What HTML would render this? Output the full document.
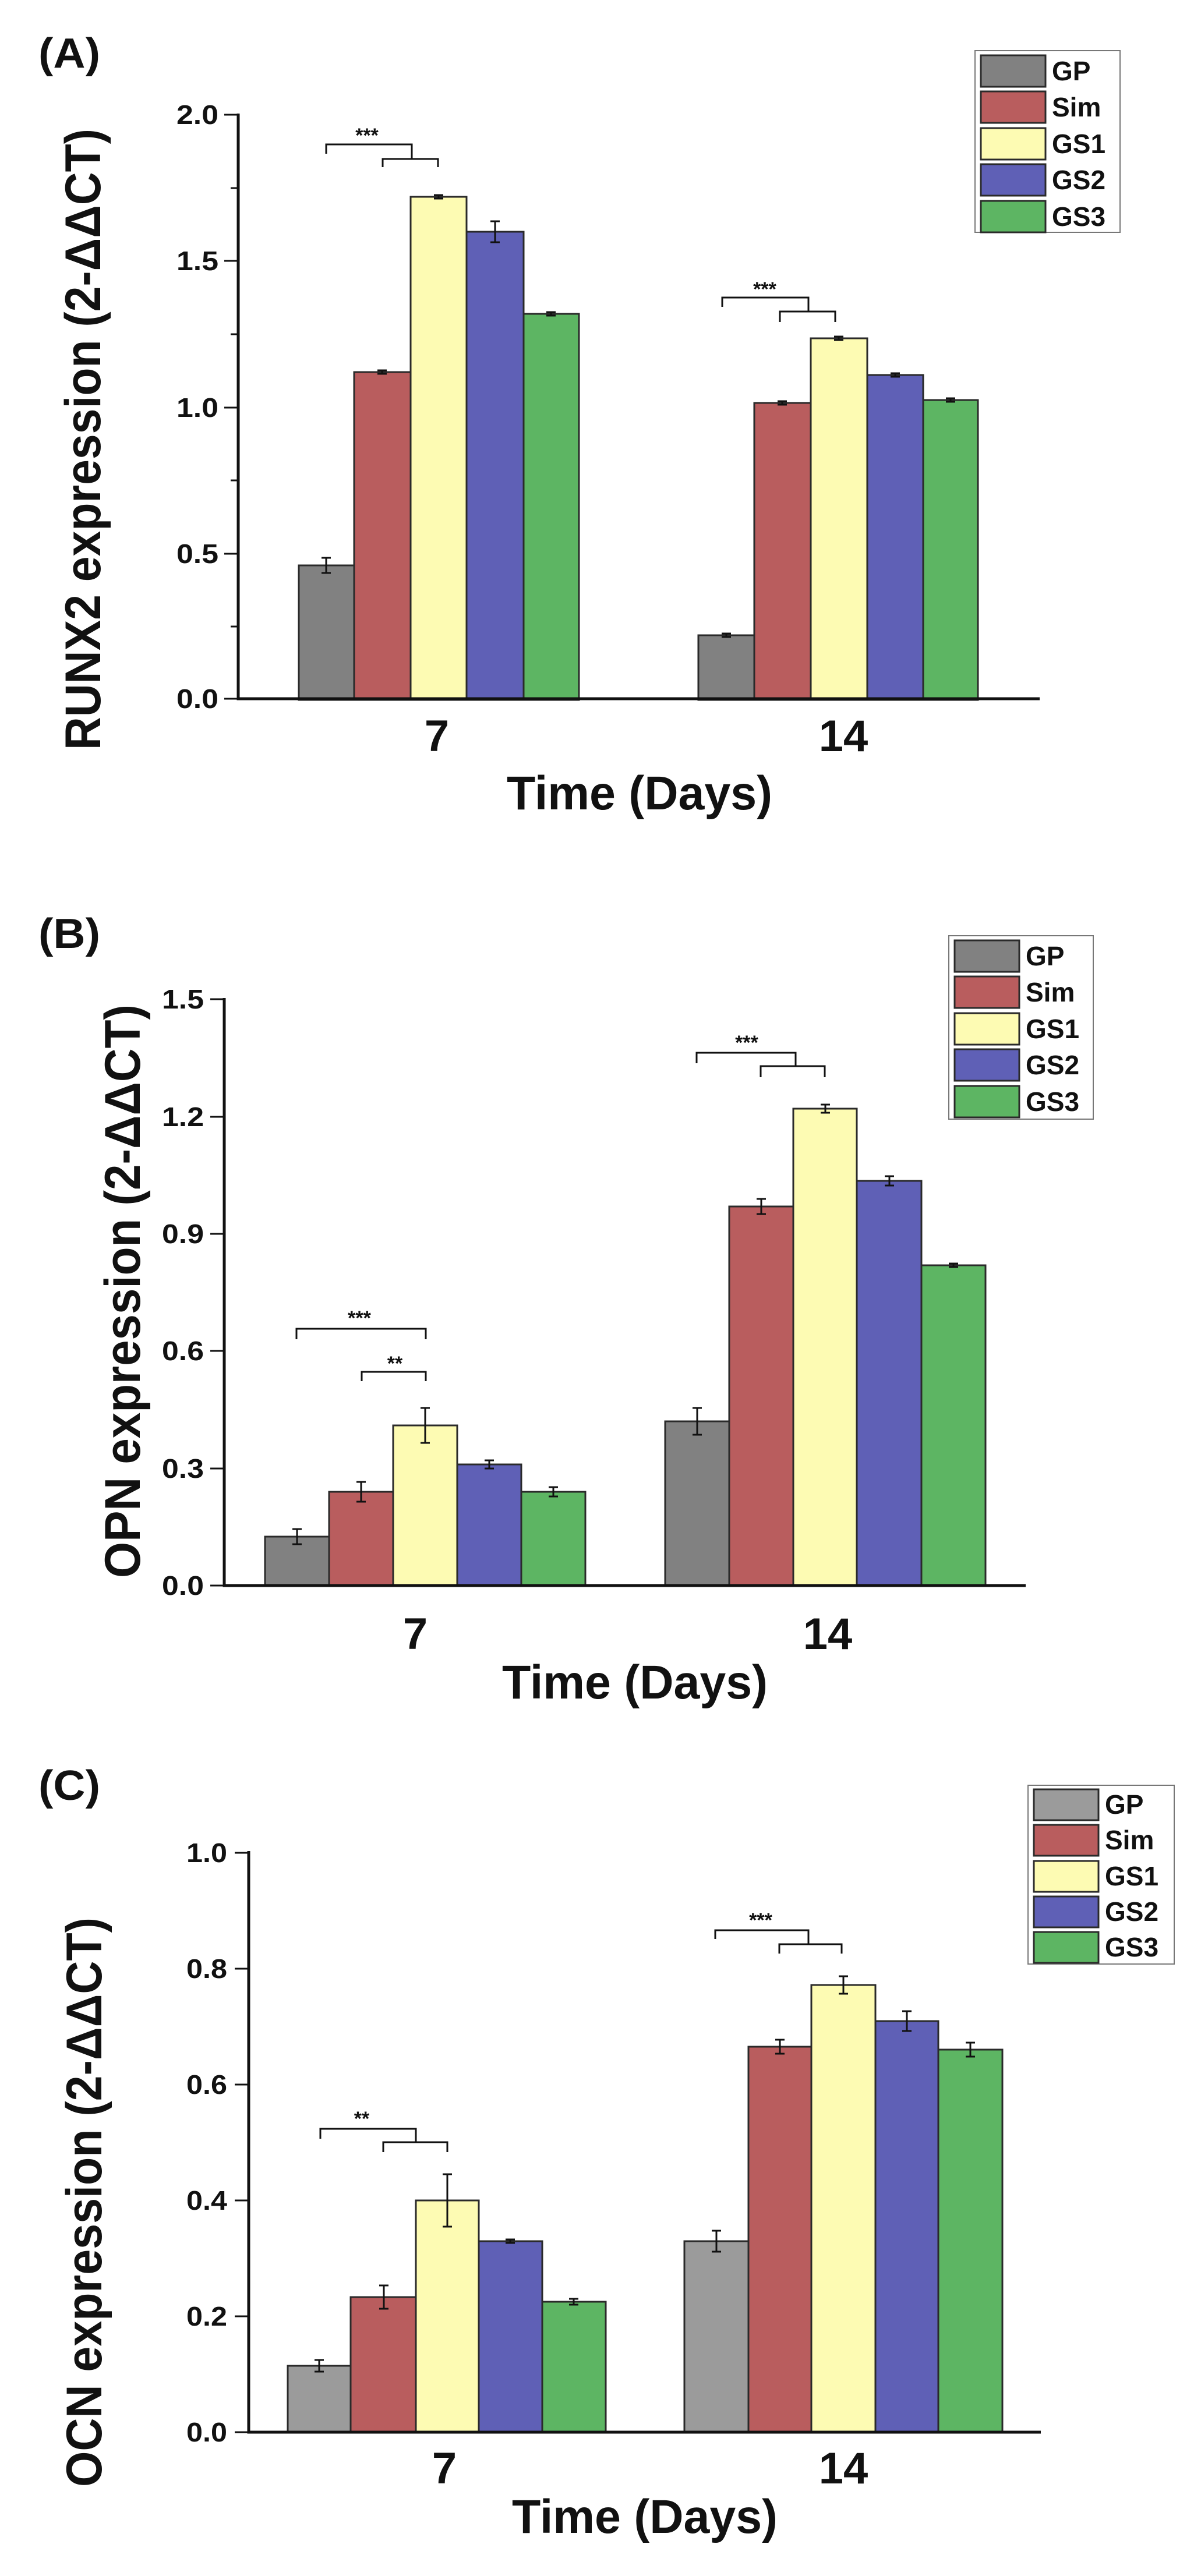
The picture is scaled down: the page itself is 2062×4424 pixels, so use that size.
<!DOCTYPE html>
<html><head><meta charset="utf-8"><style>
html,body{margin:0;padding:0;background:#fff}
svg{display:block}
text{font-family:"Liberation Sans",Arial,sans-serif;font-weight:bold;fill:#111}
.tk{font-size:46px}
.bar{stroke:#2a2a2a;stroke-width:3}
.ax{stroke:#111;stroke-width:5;fill:none}
.t{stroke:#111;stroke-width:3;fill:none}
.e{stroke:#111;stroke-width:3;fill:none}
.GP{fill:#818181}.GPc{fill:#9b9b9b}.Sim{fill:#b95d5e}.GS1{fill:#fdfbb3}.GS2{fill:#5f60b6}.GS3{fill:#5db563}
</style></head><body>
<svg width="2062" height="4424" viewBox="0 0 2062 4424" xmlns="http://www.w3.org/2000/svg">
<rect width="2062" height="4424" fill="#fff"/>

<!-- ===== Panel A ===== -->
<text x="66" y="116" font-size="72" textLength="106" lengthAdjust="spacingAndGlyphs">(A)</text>
<text transform="translate(172,1288) rotate(-90)" font-size="86" textLength="1067" lengthAdjust="spacingAndGlyphs">RUNX2 expression (2-ΔΔCT)</text>
<rect class="bar GP" x="513" y="971" width="95" height="231"/>
<rect class="bar Sim" x="608" y="639" width="97" height="563"/>
<rect class="bar GS1" x="705" y="338" width="96" height="864"/>
<rect class="bar GS2" x="801" y="398" width="98" height="804"/>
<rect class="bar GS3" x="899" y="539" width="95" height="663"/>
<rect class="bar GP" x="1199" y="1091" width="96" height="111"/>
<rect class="bar Sim" x="1295" y="692" width="97" height="510"/>
<rect class="bar GS1" x="1392" y="581" width="97" height="621"/>
<rect class="bar GS2" x="1489" y="644" width="96" height="558"/>
<rect class="bar GS3" x="1585" y="687" width="94" height="515"/>
<path class="e" d="M560 958V984M552 958H568M552 984H568
M656 636V642M648 636H664M648 642H664
M753 335V341M745 335H761M745 341H761
M850 380V416M842 380H858M842 416H858
M946 536V542M938 536H954M938 542H954
M1247 1088V1094M1239 1088H1255M1239 1094H1255
M1343 689V695M1335 689H1351M1335 695H1351
M1440 578V584M1432 578H1448M1432 584H1448
M1537 641V647M1529 641H1545M1529 647H1545
M1632 684V690M1624 684H1640M1624 690H1640"/>
<path class="t" d="M560 264V248H707V273M657 287V273H752V287M1240 527V511H1388V535M1339 553V535H1434V553"/>
<text x="630" y="244" font-size="34" text-anchor="middle">***</text>
<text x="1313" y="508" font-size="34" text-anchor="middle">***</text>
<path class="ax" d="M409 195V1200H1785"/>
<path class="t" d="M385 1200H409M385 951H409M385 700H409M385 448H409M385 197H409M396 1076H409M396 825H409M396 574H409M396 323H409"/>
<g class="tk" text-anchor="end">
<text x="375" y="1216" textLength="72" lengthAdjust="spacingAndGlyphs">0.0</text>
<text x="375" y="967" textLength="72" lengthAdjust="spacingAndGlyphs">0.5</text>
<text x="375" y="716" textLength="72" lengthAdjust="spacingAndGlyphs">1.0</text>
<text x="375" y="464" textLength="72" lengthAdjust="spacingAndGlyphs">1.5</text>
<text x="375" y="213" textLength="72" lengthAdjust="spacingAndGlyphs">2.0</text>
</g>
<text x="750" y="1290" font-size="76" text-anchor="middle">7</text>
<text x="1448" y="1290" font-size="76" text-anchor="middle">14</text>
<text x="870" y="1390" font-size="82" textLength="456" lengthAdjust="spacingAndGlyphs">Time (Days)</text>
<rect x="1674" y="87" width="249" height="312" fill="#fff" stroke="#777" stroke-width="2"/>
<rect class="bar GP" x="1684" y="95" width="111" height="54"/>
<rect class="bar Sim" x="1684" y="157" width="111" height="54"/>
<rect class="bar GS1" x="1684" y="220" width="111" height="54"/>
<rect class="bar GS2" x="1684" y="282" width="111" height="54"/>
<rect class="bar GS3" x="1684" y="345" width="111" height="54"/>
<g font-size="46">
<text x="1806" y="138">GP</text><text x="1806" y="200">Sim</text><text x="1806" y="263">GS1</text><text x="1806" y="325">GS2</text><text x="1806" y="388">GS3</text>
</g>

<!-- ===== Panel B ===== -->
<g transform="translate(0,-6)">
<text x="66" y="1634" font-size="72" textLength="106" lengthAdjust="spacingAndGlyphs">(B)</text>
<text transform="translate(240,2716) rotate(-90)" font-size="86" textLength="985" lengthAdjust="spacingAndGlyphs">OPN expression (2-ΔΔCT)</text>
<rect class="bar GP" x="455" y="2645" width="110" height="84"/>
<rect class="bar Sim" x="565" y="2568" width="110" height="161"/>
<rect class="bar GS1" x="675" y="2454" width="110" height="275"/>
<rect class="bar GS2" x="785" y="2521" width="110" height="208"/>
<rect class="bar GS3" x="895" y="2568" width="110" height="161"/>
<rect class="bar GP" x="1142" y="2447" width="110" height="282"/>
<rect class="bar Sim" x="1252" y="2078" width="110" height="651"/>
<rect class="bar GS1" x="1362" y="1910" width="109" height="819"/>
<rect class="bar GS2" x="1471" y="2034" width="111" height="695"/>
<rect class="bar GS3" x="1582" y="2179" width="110" height="550"/>
<path class="e" d="M510 2632V2658M502 2632H518M502 2658H518
M620 2551V2585M612 2551H628M612 2585H628
M730 2424V2484M722 2424H738M722 2484H738
M840 2514V2528M832 2514H848M832 2528H848
M950 2560V2576M942 2560H958M942 2576H958
M1197 2424V2470M1189 2424H1205M1189 2470H1205
M1307 2065V2091M1299 2065H1315M1299 2091H1315
M1417 1903V1917M1409 1903H1425M1409 1917H1425
M1527 2026V2042M1519 2026H1535M1519 2042H1535
M1637 2176V2182M1629 2176H1645M1629 2182H1645"/>
<path class="t" d="M509 2306V2288H731V2306M621 2378V2362H731V2378M1196 1832V1814H1366V1837M1306 1856V1837H1416V1856"/>
<text x="617" y="2281" font-size="34" text-anchor="middle">***</text>
<text x="678" y="2359" font-size="34" text-anchor="middle">**</text>
<text x="1282" y="1808" font-size="34" text-anchor="middle">***</text>
<path class="ax" d="M385 1720V2729H1761"/>
<path class="t" d="M361 2729H385M361 2528H385M361 2326H385M361 2125H385M361 1924H385M361 1722H385"/>
<g class="tk" text-anchor="end">
<text x="350" y="2745" textLength="72" lengthAdjust="spacingAndGlyphs">0.0</text>
<text x="350" y="2544" textLength="72" lengthAdjust="spacingAndGlyphs">0.3</text>
<text x="350" y="2342" textLength="72" lengthAdjust="spacingAndGlyphs">0.6</text>
<text x="350" y="2141" textLength="72" lengthAdjust="spacingAndGlyphs">0.9</text>
<text x="350" y="1940" textLength="72" lengthAdjust="spacingAndGlyphs">1.2</text>
<text x="350" y="1738" textLength="72" lengthAdjust="spacingAndGlyphs">1.5</text>
</g>
<text x="713" y="2838" font-size="76" text-anchor="middle">7</text>
<text x="1421" y="2838" font-size="76" text-anchor="middle">14</text>
<text x="862" y="2923" font-size="82" textLength="456" lengthAdjust="spacingAndGlyphs">Time (Days)</text>
<rect x="1629" y="1613" width="248" height="315" fill="#fff" stroke="#777" stroke-width="2"/>
<rect class="bar GP" x="1639" y="1621" width="111" height="54"/>
<rect class="bar Sim" x="1639" y="1683" width="111" height="54"/>
<rect class="bar GS1" x="1639" y="1746" width="111" height="54"/>
<rect class="bar GS2" x="1639" y="1808" width="111" height="54"/>
<rect class="bar GS3" x="1639" y="1871" width="111" height="54"/>
<g font-size="46">
<text x="1761" y="1664">GP</text><text x="1761" y="1726">Sim</text><text x="1761" y="1789">GS1</text><text x="1761" y="1851">GS2</text><text x="1761" y="1914">GS3</text>
</g>
</g>

<!-- ===== Panel C ===== -->
<g transform="translate(0,-7)">
<text x="66" y="3098" font-size="72" textLength="106" lengthAdjust="spacingAndGlyphs">(C)</text>
<text transform="translate(174,4278) rotate(-90)" font-size="86" textLength="978" lengthAdjust="spacingAndGlyphs">OCN expression (2-ΔΔCT)</text>
<rect class="bar GPc" x="494" y="4070" width="108" height="114"/>
<rect class="bar Sim" x="602" y="3952" width="112" height="232"/>
<rect class="bar GS1" x="714" y="3786" width="108" height="398"/>
<rect class="bar GS2" x="822" y="3856" width="109" height="328"/>
<rect class="bar GS3" x="931" y="3960" width="109" height="224"/>
<rect class="bar GPc" x="1175" y="3856" width="110" height="328"/>
<rect class="bar Sim" x="1285" y="3522" width="108" height="662"/>
<rect class="bar GS1" x="1393" y="3416" width="110" height="768"/>
<rect class="bar GS2" x="1503" y="3478" width="108" height="706"/>
<rect class="bar GS3" x="1611" y="3527" width="110" height="657"/>
<path class="e" d="M548 4060V4080M540 4060H556M540 4080H556
M659 3932V3972M651 3932H667M651 3972H667
M768 3741V3831M760 3741H776M760 3831H776
M876 3853V3859M868 3853H884M868 3859H884
M985 3955V3965M977 3955H993M977 3965H993
M1230 3838V3874M1222 3838H1238M1222 3874H1238
M1339 3510V3534M1331 3510H1347M1331 3534H1347
M1448 3401V3431M1440 3401H1456M1440 3431H1456
M1557 3461V3495M1549 3461H1565M1549 3495H1565
M1666 3515V3539M1658 3515H1674M1658 3539H1674"/>
<path class="t" d="M550 3680V3663H714V3686M658 3703V3686H768V3703M1228 3337V3322H1388V3346M1338 3362V3346H1445V3362"/>
<text x="621" y="3657" font-size="34" text-anchor="middle">**</text>
<text x="1306" y="3316" font-size="34" text-anchor="middle">***</text>
<path class="ax" d="M427 3186V4184H1787"/>
<path class="t" d="M403 4184H427M403 3985H427M403 3786H427M403 3587H427M403 3388H427M403 3189H427"/>
<g class="tk" text-anchor="end">
<text x="390" y="4200" textLength="70" lengthAdjust="spacingAndGlyphs">0.0</text>
<text x="390" y="4001" textLength="70" lengthAdjust="spacingAndGlyphs">0.2</text>
<text x="390" y="3802" textLength="70" lengthAdjust="spacingAndGlyphs">0.4</text>
<text x="390" y="3603" textLength="70" lengthAdjust="spacingAndGlyphs">0.6</text>
<text x="390" y="3404" textLength="70" lengthAdjust="spacingAndGlyphs">0.8</text>
<text x="390" y="3205" textLength="70" lengthAdjust="spacingAndGlyphs">1.0</text>
</g>
<text x="763" y="4272" font-size="76" text-anchor="middle">7</text>
<text x="1448" y="4272" font-size="76" text-anchor="middle">14</text>
<text x="879" y="4357" font-size="82" textLength="456" lengthAdjust="spacingAndGlyphs">Time (Days)</text>
<rect x="1765" y="3073" width="251" height="307" fill="#fff" stroke="#777" stroke-width="2"/>
<rect class="bar GPc" x="1775" y="3080" width="111" height="53"/>
<rect class="bar Sim" x="1775" y="3141" width="111" height="53"/>
<rect class="bar GS1" x="1775" y="3203" width="111" height="53"/>
<rect class="bar GS2" x="1775" y="3264" width="111" height="53"/>
<rect class="bar GS3" x="1775" y="3325" width="111" height="53"/>
<g font-size="46">
<text x="1897" y="3122">GP</text><text x="1897" y="3183">Sim</text><text x="1897" y="3245">GS1</text><text x="1897" y="3306">GS2</text><text x="1897" y="3367">GS3</text>
</g>
</g>
</svg>
</body></html>
